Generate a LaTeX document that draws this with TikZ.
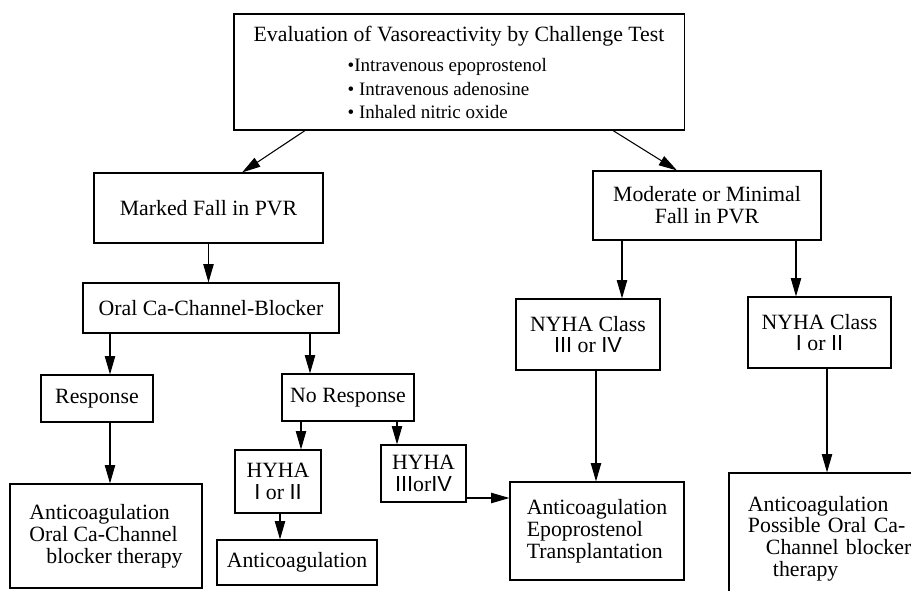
\documentclass[tikz,border=0pt]{standalone}
\usepackage{fontspec}
\setmainfont{Liberation Serif}
\setsansfont{Liberation Sans}
\usepackage{tikz}
\usetikzlibrary{arrows.meta,positioning}

\begin{document}
\begin{tikzpicture}[
      x=0.025cm, y=-0.025cm,
      box/.style={rectangle, draw, line width=0.8pt, align=center, inner sep=2pt,
                  font=\fontsize{15.5}{15.5}\selectfont},
      arr/.style={-{Triangle[length=4.6mm,width=2.6mm]}, line width=0.75pt},
    ]
    \useasboundingbox (0,0) rectangle (911,590);
    \clip (0,0) rectangle (911,590);

    \node[box, minimum width=11.25cm, minimum height=2.9cm, align=left,
          font=\fontsize{13.5}{16.4}\selectfont] (eval) at (459,72)
      {{\fontsize{15.5}{16.4}\selectfont Evaluation of Vasoreactivity by Challenge Test}\\[5.6pt]
       \hspace*{2.35cm}\textbullet Intravenous epoprostenol\\
       \hspace*{2.35cm}\textbullet{} Intravenous adenosine\\
       \hspace*{2.35cm}\textbullet{} Inhaled nitric oxide};

    \node[box, minimum width=5.725cm, minimum height=1.75cm] (marked) at (208.5,208)
      {Marked Fall in PVR};

    \node[box, minimum width=5.7cm, minimum height=1.725cm] (moderate) at (707,205.5)
      {Moderate or Minimal\\Fall in PVR};

    \node[box, minimum width=6.4cm, minimum height=1.25cm] (oral) at (211,308)
      {Oral Ca-Channel-Blocker};

    \node[box, minimum width=2.8cm, minimum height=1.175cm] (resp) at (97,398.5)
      {Response};

    \node[box, minimum width=3.3cm, minimum height=1.175cm] (noresp) at (348,397.5)
      {No Response};

    \node[box, minimum width=2.15cm, minimum height=1.575cm] (hyha12) at (278,481.5)
      {HYHA\\\textsf{I} or \textsf{II}};

    \node[box, minimum width=2.125cm, minimum height=1.425cm] (hyha34) at (423.5,473.5)
      {HYHA\\\textsf{III}or\textsf{IV}};

    \node[box, minimum width=4.8cm, minimum height=2.6cm, align=left] (antiL) at (106,536)
      {Anticoagulation\\Oral Ca-Channel\\\hspace*{0.425cm}blocker therapy};

    \node[box, minimum width=4cm, minimum height=1.125cm] (antiS) at (297,562.5)
      {Anticoagulation};

    \node[box, minimum width=3.6cm, minimum height=1.775cm] (nyha34) at (588,334.5)
      {NYHA Class\\\textsf{III} or \textsf{IV}};

    \node[box, minimum width=3.575cm, minimum height=1.775cm] (nyha12) at (819.5,332.5)
      {NYHA Class\\\textsf{I} or \textsf{II}};

    \node[box, minimum width=4.35cm, minimum height=2.45cm, align=left] (epo) at (597,531)
      {Anticoagulation\\Epoprostenol\\Transplantation};

    \node[box, text width=4.325cm, inner xsep=0.475cm, minimum height=3.275cm, align=left]
      (antiR) at (834.5,538.5)
      {Anticoagulation\\Possible Oral Ca-\\\hspace*{0.45cm}Channel blocker\\\hspace*{0.625cm}therapy};

    \draw[arr] ([xshift=-3.85cm]eval.south) -- ([xshift=0.84cm]marked.north);
    \draw[arr] ([xshift=3.85cm]eval.south)  -- ([xshift=-0.75cm]moderate.north);
    \draw[arr] (marked.south) -- (marked.south |- oral.north);
    \draw[arr] (oral.south -| 110,0)   -- (resp.north -| 110,0);
    \draw[arr] (oral.south -| 310,0)   -- (noresp.north -| 310,0);
    \draw[arr] (resp.south -| 110,0)   -- (antiL.north -| 110,0);
    \draw[arr] (noresp.south -| 301,0) -- (hyha12.north -| 301,0);
    \draw[arr] (noresp.south -| 397,0) -- (hyha34.north -| 397,0);
    \draw[arr] (hyha12.south -| 280,0) -- (antiS.north -| 280,0);
    \draw[arr] (hyha34.east |- 0,498)  -- (epo.west |- 0,498);
    \draw[arr] (moderate.south -| 622,0) -- (nyha34.north -| 622,0);
    \draw[arr] (moderate.south -| 796,0) -- (nyha12.north -| 796,0);
    \draw[arr] (nyha34.south -| 596,0) -- (epo.north -| 596,0);
    \draw[arr] (nyha12.south -| 827,0) -- (antiR.north -| 827,0);
  \end{tikzpicture}
\end{document}
